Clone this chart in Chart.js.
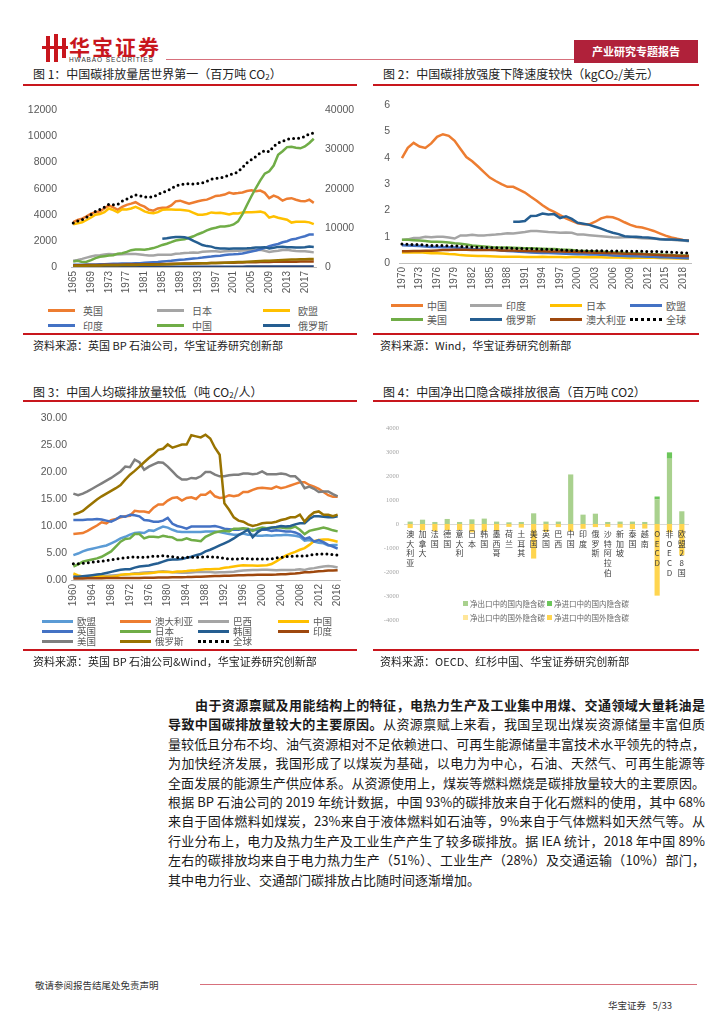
<!DOCTYPE html>
<html>
<head>
<meta charset="utf-8">
<script src="https://cdn.jsdelivr.net/npm/chart.js@4.4.0/dist/chart.umd.min.js"></script>
<style>
body{margin:0;width:724px;height:1024px;position:relative;background:#fff;font-family:"Noto Sans CJK SC","Noto Sans",sans-serif;color:#222;overflow:hidden}
.abs{position:absolute}
.title{position:absolute;font-size:12px;line-height:16px;white-space:nowrap;color:#222}
.title sub{font-size:8px;vertical-align:-1px}
.rule{position:absolute;height:2px;background:#c8161d}
.src{position:absolute;font-size:11px;line-height:14px;white-space:nowrap;color:#222}
.legend{position:absolute;display:grid;color:#595959;font-size:10px}
.legend .it{display:flex;align-items:center;white-space:nowrap;overflow:visible}
.legend .smp{display:inline-block;flex:none}
.para{position:absolute;left:168px;width:537px;font-size:13px;color:#1a1a1a}
.ln{height:19.4px;line-height:19.4px;text-align:justify;text-align-last:justify;overflow:hidden}
.ln.last{text-align-last:left}
canvas{position:absolute}
</style>
</head>
<body>
<!-- header -->
<div class="abs" style="left:46px;top:36px;width:4px;height:26px;background:#c8161d"></div>
<div class="abs" style="left:54px;top:34px;width:4px;height:28px;background:#c8161d"></div>
<div class="abs" style="left:62px;top:38px;width:4px;height:20px;background:#c8161d"></div>
<div class="abs" style="left:42px;top:46px;width:26px;height:3px;background:#c8161d"></div>
<div class="abs" style="left:69px;top:34px;font-size:21px;line-height:24px;font-weight:bold;color:#c8161d;letter-spacing:2px">华宝证券</div>
<div class="abs" style="left:69px;top:56px;font-size:6.5px;line-height:8px;color:#333;font-family:'Liberation Sans';letter-spacing:0.9px">HWABAO SECURITIES</div>
<div class="abs" style="left:166px;top:59px;width:408px;height:1px;background:#d7707c"></div>
<div class="abs" style="left:574px;top:40px;width:124px;height:23px;background:#b0213a;color:#fff;font-size:11px;line-height:23px;text-align:center;font-weight:bold">产业研究专题报告</div>

<!-- panel 1 -->
<div class="title" style="left:33px;top:66px">图 1：中国碳排放量居世界第一（百万吨 CO<sub>2</sub>）</div>
<div class="rule" style="left:23px;top:84px;width:334px"></div>
<canvas id="c1" width="335" height="212" style="left:25px;top:90px"></canvas>
<div class="legend" id="lg1" style="left:48px;top:303px"></div>
<div class="rule" style="left:23px;top:333px;width:334px"></div>
<div class="src" style="left:33px;top:338px">资料来源：英国 BP 石油公司，华宝证券研究创新部</div>

<!-- panel 2 -->
<div class="title" style="left:383px;top:66px">图 2：中国碳排放强度下降速度较快（kgCO<sub>2</sub>/美元）</div>
<div class="rule" style="left:373px;top:84px;width:326px"></div>
<canvas id="c2" width="330" height="205" style="left:375px;top:90px"></canvas>
<div class="legend" id="lg2" style="left:391px;top:298px"></div>
<div class="rule" style="left:373px;top:333px;width:326px"></div>
<div class="src" style="left:380px;top:338px">资料来源：Wind，华宝证券研究创新部</div>

<!-- panel 3 -->
<div class="title" style="left:33px;top:384px">图 3：中国人均碳排放量较低（吨 CO<sub>2</sub>/人）</div>
<div class="rule" style="left:23px;top:400px;width:334px"></div>
<canvas id="c3" width="335" height="212" style="left:25px;top:405px"></canvas>
<div class="legend" id="lg3" style="left:42px;top:616px;font-size:9.5px;line-height:10px"></div>
<div class="rule" style="left:23px;top:649px;width:334px"></div>
<div class="src" style="left:33px;top:654px">资料来源：英国 BP 石油公司&amp;Wind，华宝证券研究创新部</div>

<!-- panel 4 -->
<div class="title" style="left:383px;top:384px">图 4：中国净出口隐含碳排放很高（百万吨 CO2）</div>
<div class="rule" style="left:373px;top:400px;width:326px"></div>
<canvas id="c4" width="330" height="215" style="left:375px;top:415px"></canvas>
<div class="legend" id="lg4" style="left:463px;top:596px;font-size:7.5px;color:#666"></div>
<div class="rule" style="left:373px;top:649px;width:326px"></div>
<div class="src" style="left:380px;top:654px">资料来源：OECD、红杉中国、华宝证券研究创新部</div>

<!-- body text -->
<div class="para" style="top:695px">
<div class="ln" style="padding-left:27px"><b>由于资源禀赋及用能结构上的特征，电热力生产及工业集中用煤、交通领域大量耗油是</b></div>
<div class="ln"><b>导致中国碳排放量较大的主要原因。</b>从资源禀赋上来看，我国呈现出煤炭资源储量丰富但质</div>
<div class="ln">量较低且分布不均、油气资源相对不足依赖进口、可再生能源储量丰富技术水平领先的特点，</div>
<div class="ln">为加快经济发展，我国形成了以煤炭为基础，以电力为中心，石油、天然气、可再生能源等</div>
<div class="ln">全面发展的能源生产供应体系。从资源使用上，煤炭等燃料燃烧是碳排放量较大的主要原因。</div>
<div class="ln">根据 BP 石油公司的 2019 年统计数据，中国 93%的碳排放来自于化石燃料的使用，其中 68%</div>
<div class="ln">来自于固体燃料如煤炭，23%来自于液体燃料如石油等，9%来自于气体燃料如天然气等。从</div>
<div class="ln">行业分布上，电力及热力生产及工业生产产生了较多碳排放。据 IEA 统计，2018 年中国 89%</div>
<div class="ln">左右的碳排放均来自于电力热力生产（51%）、工业生产（28%）及交通运输（10%）部门，</div>
<div class="ln last">其中电力行业、交通部门碳排放占比随时间逐渐增加。</div>
</div>

<!-- footer -->
<div class="abs" style="left:35px;top:978px;font-size:9.5px;line-height:14px;color:#333">敬请参阅报告结尾处免责声明</div>
<div class="abs" style="left:200px;top:984px;width:497px;height:1px;background:#d7707c"></div>
<div class="abs" style="left:608px;top:998px;font-size:9.5px;line-height:14px;color:#333">华宝证券&nbsp;&nbsp;&nbsp;5/33</div>

<script>
'use strict';

// ---------- 图1 数据 (百万吨CO2) ----------
let years1 = [];
for (let y = 1965; y <= 2019; y++) years1.push(String(y));

let us1 = [3430,3600,3700,3880,4080,4200,4260,4480,4720,4560, 4380,4600,4760,4850,4960,4760,4620,4380,4310,4480,
    4540,4540,4720,5030,5080,4960,4840,4940,5040,5110, 5160,5300,5440,5470,5550,5700,5620,5660,5710,5820,
    5870,5800,5850,5680,5270,5460,5330,5080,5230,5270, 5150,5050,5030,5150,4910];
let japan1 = [480,540,620,720,800,880,900,950,1000,980, 950,980,990,990,1000,960,920,890,880,940,
    930,930,940,1010,1040,1080,1090,1110,1100,1160, 1180,1200,1200,1160,1200,1230,1220,1250,1270,1290,
    1300,1290,1320,1250,1150,1210,1240,1300,1320,1270, 1230,1210,1200,1160,1120];
let eu1 = [3280,3350,3420,3600,3800,4000,4060,4200,4480,4350, 4190,4420,4400,4480,4600,4450,4260,4160,4120,4200,
    4380,4400,4400,4380,4380,4350,4300,4150,4000,4000, 4060,4180,4140,4150,4090,4020,4120,4100,4170,4200,
    4190,4220,4240,4150,3780,3880,3770,3700,3620,3400, 3460,3460,3470,3420,3280];
let india1 = [170,175,180,190,195,200,210,220,230,240, 250,260,270,275,285,295,320,340,360,385,
    420,450,480,520,550,575,610,650,680,720, 770,800,840,860,920,950,970,1000,1040,1110,
    1180,1260,1360,1460,1590,1680,1760,1890,1970,2110, 2170,2270,2360,2480,2490];
let china1 = [430,470,390,400,520,680,780,830,880,900, 1020,1060,1160,1290,1340,1340,1320,1380,1450,1560,
    1690,1780,1900,2030,2090,2120,2240,2350,2510,2640, 2800,2930,3010,3100,3110,3150,3260,3500,4050,4750,
    5420,6050,6630,7150,7330,7770,8600,8870,9180,9200, 9140,9090,9230,9500,9820];
let russia1 = [null,null,null,null,null,null,null,null,null,null, null,null,null,null,null,null,null,null,null,null,
    2160,2200,2260,2290,2290,2270,2180,2000,1850,1680, 1600,1560,1450,1420,1410,1400,1410,1410,1420,1430,
    1450,1490,1500,1520,1420,1480,1540,1550,1520,1520, 1500,1500,1510,1560,1530];
let olive1 = [90,95,100,105,110,115,120,125,130,135, 140,145,150,155,160,165,170,175,180,190,
    200,210,220,230,240,250,255,260,270,280, 290,300,310,320,330,345,360,375,390,405,
    420,435,450,470,480,500,520,540,555,565, 575,585,595,610,615];
let brown1 = [130,135,140,145,150,155,160,165,170,172, 175,180,185,190,195,200,205,210,215,220,
    225,230,240,250,255,260,265,270,280,285, 295,300,305,310,320,330,335,340,350,355,
    360,370,375,385,390,395,400,405,410,410, 410,415,415,420,415];
let navy1 = [10,10,10,11,11,12,12,13,13,14, 14,15,15,16,16,17,17,18,18,19,
    19,20,20,21,21,22,22,23,23,24, 24,25,25,26,26,27,27,28,28,29,
    29,30,30,31,31,32,32,33,33,34, 34,35,35,36,36];
let world1 = [11200,11700,12100,12700,13400,14200,14700,15300,16000,15900, 16000,16800,17300,17900,18400,18200,17900,17800,17900,18500,
    19000,19400,20000,20700,21000,21200,21300,21200,21300,21500, 21900,22400,22600,22700,23000,23500,23800,24300,25400,26600,
    27400,28200,29100,29700,29400,30800,31700,32100,32600,32800, 32800,32900,33300,34000,34200];
let leftTicks1 = [0, 2000, 4000, 6000, 8000, 10000, 12000];
let rightTicks1 = [0, 10000, 20000, 30000, 40000];

// ---------- 图2 数据 (kgCO2/美元) ----------
let years2 = [];
for (let y = 1970; y <= 2019; y++) years2.push(String(y));

let china2 = [3.99,4.38,4.57,4.43,4.38,4.55,4.80,4.90,4.84,4.65, 4.34,4.03,3.87,3.67,3.46,3.25,3.12,3.00,2.90,2.90,
    2.79,2.68,2.52,2.37,2.20,2.05,1.95,1.82,1.70,1.60, 1.51,1.47,1.47,1.57,1.70,1.76,1.74,1.66,1.55,1.45,
    1.38,1.35,1.29,1.22,1.13,1.04,0.97,0.92,0.88,0.86];
let india2 = [0.88,0.90,0.95,0.95,1.00,0.98,1.00,1.00,0.97,0.93, 1.05,1.05,1.07,1.05,1.05,1.07,1.08,1.10,1.13,1.12,
    1.15,1.18,1.22,1.22,1.20,1.18,1.17,1.15,1.16,1.15, 1.08,1.08,1.06,1.04,1.02,1.00,0.98,0.97,0.98,0.99,
    0.96,0.94,0.93,0.92,0.91,0.89,0.88,0.87,0.86,0.83];
let japan2 = [0.40,0.40,0.40,0.41,0.39,0.37,0.37,0.36,0.34,0.33, 0.30,0.29,0.28,0.27,0.27,0.26,0.25,0.24,0.24,0.24,
    0.24,0.23,0.23,0.23,0.24,0.23,0.23,0.23,0.22,0.23, 0.23,0.22,0.22,0.22,0.22,0.21,0.21,0.21,0.20,0.19,
    0.20,0.20,0.20,0.20,0.19,0.18,0.18,0.17,0.17,0.16];
let eu2 = [0.68,0.67,0.66,0.65,0.63,0.61,0.61,0.60,0.60,0.59, 0.57,0.55,0.53,0.52,0.51,0.50,0.49,0.48,0.46,0.45,
    0.43,0.42,0.40,0.39,0.38,0.38,0.37,0.36,0.35,0.34, 0.33,0.33,0.32,0.32,0.31,0.30,0.29,0.28,0.27,0.26,
    0.26,0.25,0.24,0.24,0.22,0.22,0.21,0.20,0.19,0.18];
let us2 = [0.88,0.88,0.87,0.86,0.84,0.81,0.81,0.80,0.78,0.75, 0.73,0.70,0.67,0.65,0.63,0.61,0.59,0.59,0.59,0.58,
    0.57,0.56,0.56,0.55,0.54,0.53,0.53,0.51,0.50,0.49, 0.47,0.46,0.45,0.44,0.43,0.42,0.40,0.40,0.38,0.36,
    0.37,0.35,0.33,0.33,0.32,0.31,0.30,0.29,0.29,0.28];
let russia2 = [null,null,null,null,null,null,null,null,null,null, null,null,null,null,null,null,null,null,null,1.57,
    1.57,1.60,1.79,1.80,1.88,1.85,1.86,1.71,1.78,1.68, 1.53,1.49,1.45,1.38,1.31,1.22,1.15,1.10,1.02,1.00,
    1.00,0.98,0.97,0.94,0.90,0.89,0.89,0.88,0.87,0.85];
let aus2 = [0.45,0.45,0.46,0.46,0.47,0.47,0.48,0.49,0.49,0.50, 0.50,0.50,0.49,0.49,0.49,0.49,0.49,0.48,0.48,0.48,
    0.47,0.46,0.46,0.45,0.45,0.44,0.44,0.44,0.43,0.43, 0.42,0.41,0.40,0.39,0.39,0.38,0.37,0.36,0.35,0.35,
    0.34,0.33,0.32,0.31,0.30,0.29,0.29,0.28,0.27,0.27];
let world2 = [0.72,0.71,0.70,0.70,0.68,0.67,0.67,0.66,0.65,0.65, 0.63,0.62,0.61,0.60,0.59,0.58,0.58,0.57,0.57,0.56,
    0.55,0.55,0.54,0.53,0.52,0.52,0.51,0.50,0.49,0.48, 0.47,0.47,0.47,0.47,0.47,0.46,0.46,0.46,0.45,0.45,
    0.45,0.45,0.44,0.44,0.43,0.42,0.41,0.40,0.39,0.38];

// ---------- 图3 数据 (吨CO2/人) ----------
let years3 = [];
for (let y = 1960; y <= 2016; y++) years3.push(String(y));

let eu3 = [4.6,4.9,5.3,5.6,5.8,6.0,6.2,6.4,6.8,7.2, 7.7,8.0,8.4,8.7,8.8,8.7,9.2,9.1,9.5,9.9,
    9.7,9.3,9.0,8.9,8.9,8.9,8.9,8.9,9.0,9.0, 9.0,8.9,8.7,8.5,8.4,8.4,8.6,8.4,8.4,8.2,
    8.2,8.3,8.2,8.3,8.3,8.4,8.3,8.2,8.0,7.3, 7.4,7.1,6.9,6.8,6.4,6.5,6.5];
let aus3 = [8.5,8.6,8.7,9.1,9.6,10.1,10.7,10.5,11.1,11.3, 11.6,11.8,11.9,12.8,12.7,12.7,12.5,13.4,14.0,14.0,
    14.7,15.2,15.3,14.7,15.2,15.3,15.0,15.8,15.8,16.4, 15.5,15.2,15.3,15.7,15.5,15.7,16.3,16.3,16.7,17.0,
    17.1,17.0,16.9,17.3,17.0,17.2,17.5,17.8,18.1,18.1, 17.6,17.3,16.9,16.3,15.7,15.4,15.4];
let brazil3 = [0.65,0.68,0.70,0.70,0.70,0.70,0.75,0.78,0.85,0.90, 0.95,1.00,1.10,1.25,1.30,1.40,1.45,1.45,1.55,1.60,
    1.55,1.45,1.40,1.35,1.35,1.40,1.50,1.50,1.50,1.50, 1.40,1.45,1.45,1.50,1.55,1.65,1.75,1.80,1.85,1.85,
    1.90,1.90,1.85,1.80,1.85,1.85,1.85,1.90,2.00,1.85, 2.10,2.20,2.35,2.50,2.60,2.50,2.30];
let china3 = [1.20,0.85,0.66,0.64,0.64,0.67,0.70,0.58,0.60,0.68, 0.95,1.05,1.08,1.10,1.10,1.20,1.25,1.35,1.50,1.50,
    1.48,1.44,1.56,1.58,1.65,1.74,1.80,1.90,2.00,2.00, 2.05,2.10,2.25,2.35,2.50,2.65,2.75,2.70,2.70,2.65,
    2.70,2.75,2.95,3.45,4.00,4.50,4.90,5.20,5.60,5.90, 6.50,7.20,7.40,7.50,7.50,7.30,7.10];
let uk3 = [11.1,11.1,11.1,11.2,11.2,11.3,11.2,11.0,10.8,11.2, 11.8,11.7,12.1,12.0,11.8,11.1,11.0,10.8,10.8,11.0,
    11.5,10.4,10.0,9.8,9.5,9.9,9.9,9.9,9.9,9.9, 10.0,9.8,9.5,9.4,9.3,9.3,9.5,9.2,9.3,9.2,
    9.3,9.3,9.1,9.2,9.1,9.0,9.0,8.8,8.4,7.6, 7.9,7.1,7.4,7.0,6.5,6.2,5.8];
let japan3 = [2.5,2.9,3.4,3.6,3.8,4.0,4.3,4.8,5.3,6.2, 7.1,7.6,7.7,8.5,8.5,7.7,8.0,8.0,7.9,8.2,
    8.0,7.9,7.4,7.4,7.7,7.4,7.3,7.2,8.0,8.4, 8.8,9.0,9.1,9.0,9.5,9.5,9.6,9.5,9.1,9.5,
    9.7,9.6,9.7,9.7,9.7,9.6,9.6,9.9,9.3,8.5, 9.1,9.3,9.5,9.7,9.5,9.2,9.0];
let korea3 = [0.6,0.6,0.7,0.8,0.9,1.0,1.1,1.3,1.5,1.7, 1.9,2.0,2.0,2.3,2.5,2.6,2.7,2.9,3.1,3.4,
    3.7,3.8,3.8,3.9,4.1,4.3,4.6,4.8,5.3,5.6, 6.0,6.4,6.8,7.2,7.7,8.3,8.8,9.3,7.9,8.8,
    9.4,9.5,9.7,9.8,10.0,9.9,10.0,10.3,10.5,10.5, 11.3,11.8,11.8,11.7,11.6,11.6,11.8];
let india3 = [0.27,0.28,0.30,0.32,0.32,0.34,0.34,0.35,0.36,0.36, 0.36,0.37,0.38,0.38,0.39,0.41,0.42,0.43,0.44,0.46,
    0.48,0.50,0.51,0.53,0.54,0.57,0.59,0.62,0.65,0.69, 0.72,0.76,0.79,0.80,0.83,0.87,0.89,0.92,0.92,0.97,
    0.98,0.97,0.99,1.00,1.05,1.08,1.14,1.20,1.29,1.42, 1.45,1.53,1.64,1.66,1.75,1.74,1.80];
let us3 = [16.0,15.7,16.0,16.4,16.9,17.4,17.9,18.4,18.9,19.5, 20.1,21.0,20.9,22.3,21.8,20.4,21.0,21.4,21.8,21.7,
    21.0,20.1,19.2,18.6,18.6,18.9,18.8,19.2,20.0,20.0, 19.5,19.2,19.2,19.4,19.5,19.5,19.7,19.7,19.6,19.7,
    20.1,19.6,19.6,19.6,19.7,19.6,19.2,19.2,18.4,17.0, 17.3,16.9,16.3,16.4,16.4,15.9,15.5];
let russia3 = [12.1,12.4,12.8,13.5,14.2,14.9,15.5,16.0,16.5,17.0, 17.6,18.6,19.5,20.2,21.0,21.8,22.6,23.3,24.1,24.3,
    25.1,24.5,24.8,25.1,25.1,26.8,26.6,26.4,26.9,26.2, 24.5,23.2,14.2,13.0,11.6,11.0,10.8,10.3,10.0,10.2,
    10.5,10.6,10.6,10.8,11.1,11.3,11.6,11.6,12.1,10.8, 11.8,12.5,12.7,12.1,12.1,11.8,12.1];
let world3 = [3.0,3.0,3.1,3.2,3.3,3.4,3.5,3.6,3.7,3.9, 4.0,4.1,4.2,4.3,4.2,4.2,4.3,4.4,4.4,4.5,
    4.4,4.3,4.2,4.1,4.2,4.2,4.2,4.2,4.3,4.3, 4.2,4.2,4.0,3.9,3.9,3.9,4.0,3.9,3.9,3.9,
    3.9,3.9,3.9,4.1,4.2,4.3,4.4,4.4,4.5,4.4, 4.6,4.7,4.8,4.8,4.8,4.7,4.6];

// ---------- 图4 数据 (百万吨CO2) ----------
let cat4 = ['澳大利亚','加拿大','法国','德国','意大利','日本','韩国','墨西哥','荷兰','土耳其','美国','英国',
    '巴西','中国','印度','俄罗斯','沙特阿拉伯','新加坡','泰国','越南','OECD','非OECD','欧盟28国'];
let domExp4 = [100,180,85,210,85,195,225,100,70,85,445,100, 100,2065,390,430,85,100,100,85,1020,2720,530];
let domImp4 = [0,0,0,0,0,0,0,0,0,0,0,0, 0,0,0,0,0,0,0,0,125,265,0];
let forExp4 = [0,0,0,0,0,0,0,0,0,0,0,0, 0,0,0,0,0,0,0,0,0,0,0];
let forImp4 = [-170,-265,-300,-250,-250,-350,-300,-280,-120,-150,-1440,-330, -130,-300,-200,-130,-120,-150,-210,-190,-2985,-350,-1300];

Chart.defaults.font.family = "'Liberation Sans', Arial, sans-serif";
Chart.defaults.color = '#595959';
Chart.defaults.animation = false;

function fixW(w) { return function (s) { s.width = w; }; }
function fixH(h) { return function (s) { s.height = h; }; }
function everyN(n) {
    return function (v, i) { return i % n === 0 ? this.getLabelForValue(v) : ''; };
}
function plain(v) { return String(v); }
function lineSet(label, data, color, extra) {
    let ds = {
        label: label, data: data, borderColor: color, backgroundColor: color,
        borderWidth: 2.5, pointRadius: 0, tension: 0, spanGaps: false
    };
    return Object.assign(ds, extra || {});
}
function dotSet(label, data, extra) {
    return lineSet(label, data, '#000', Object.assign({
        borderWidth: 3, borderDash: [0, 5], borderCapStyle: 'round', isDot: true
    }, extra || {}));
}
function layerOrder(sets) {
    sets.forEach(function (ds, i) { ds.order = sets.length - i; });
    return sets;
}
function xCat(h, n) {
    return {
        offset: true, grid: { display: false, drawTicks: false },
        border: { display: true, color: '#bfbfbf' },
        ticks: { autoSkip: false, maxRotation: 90, minRotation: 90, padding: 4, font: { size: 10 }, callback: everyN(n) },
        afterFit: fixH(h)
    };
}
let noGrid = { display: false, drawTicks: false };

function buildLegend(id, chart, cols, rowH, smpW, gap) {
    let el = document.getElementById(id);
    el.style.gridTemplateColumns = cols.map(function (w) { return w + 'px'; }).join(' ');
    el.style.gridAutoRows = rowH + 'px';
    chart.data.datasets.forEach(function (ds) {
        if (ds.noLegend) return;
        let it = document.createElement('div');
        it.className = 'it';
        it.style.height = rowH + 'px';
        let smp = document.createElement('span');
        smp.className = 'smp';
        smp.style.width = smpW + 'px';
        smp.style.marginRight = gap + 'px';
        if (ds.isDot) {
            smp.style.height = '0';
            smp.style.borderTop = '3px dotted #000';
        } else {
            smp.style.height = '3px';
            smp.style.background = ds.borderColor;
        }
        let tx = document.createElement('span');
        tx.textContent = ds.label;
        it.appendChild(smp);
        it.appendChild(tx);
        el.appendChild(it);
    });
}

// ---------- 图1 ----------
let chart1 = new Chart(document.getElementById('c1'), {
    type: 'line',
    data: {
        labels: years1,
        datasets: layerOrder([
            lineSet('英国', us1, '#ed7d31'),
            lineSet('日本', japan1, '#a5a5a5'),
            lineSet('欧盟', eu1, '#ffc000'),
            lineSet('印度', india1, '#4472c4'),
            lineSet('中国', china1, '#70ad47'),
            lineSet('俄罗斯', russia1, '#255e91'),
            lineSet('其他A', navy1, '#264478', { noLegend: true }),
            lineSet('其他B', brown1, '#9e480e', { noLegend: true }),
            lineSet('其他C', olive1, '#997300', { noLegend: true }),
            dotSet('全球', world1, { yAxisID: 'y2', noLegend: true })
        ])
    },
    options: {
        responsive: false,
        layout: { padding: { top: 10 } },
        plugins: { legend: { display: false }, tooltip: { enabled: false } },
        scales: {
            x: xCat(35, 4),
            y: {
                position: 'left', min: 0, max: 12000,
                afterBuildTicks: function (s) { s.ticks = leftTicks1.map(function (v) { return { value: v }; }); },
                grid: noGrid, border: { display: false },
                ticks: { padding: 14, font: { size: 10.5 }, callback: plain }, afterFit: fixW(46)
            },
            y2: {
                position: 'right', min: 0, max: 40000,
                afterBuildTicks: function (s) { s.ticks = rightTicks1.map(function (v) { return { value: v }; }); },
                grid: noGrid, border: { display: false },
                ticks: { padding: 9, font: { size: 10.5 }, callback: plain }, afterFit: fixW(44)
            }
        }
    }
});
buildLegend('lg1', chart1, [109, 106, 100], 15, 27, 8);

// ---------- 图2 ----------
let chart2 = new Chart(document.getElementById('c2'), {
    type: 'line',
    data: {
        labels: years2,
        datasets: layerOrder([
            lineSet('中国', china2, '#ed7d31'),
            lineSet('印度', india2, '#a5a5a5'),
            lineSet('日本', japan2, '#ffc000'),
            lineSet('欧盟', eu2, '#4472c4'),
            lineSet('美国', us2, '#70ad47'),
            lineSet('俄罗斯', russia2, '#255e91'),
            lineSet('澳大利亚', aus2, '#9e480e'),
            dotSet('全球', world2)
        ])
    },
    options: {
        responsive: false,
        layout: { padding: { top: 14, right: 6 } },
        plugins: { legend: { display: false }, tooltip: { enabled: false } },
        scales: {
            x: xCat(32, 3),
            y: {
                min: 0, max: 6, grid: noGrid, border: { display: false },
                ticks: { stepSize: 1, padding: 9, font: { size: 10.5 } }, afterFit: fixW(24)
            }
        }
    }
});
buildLegend('lg2', chart2, [79, 80, 80, 75], 14, 32, 4);

// ---------- 图3 ----------
let chart3 = new Chart(document.getElementById('c3'), {
    type: 'line',
    data: {
        labels: years3,
        datasets: layerOrder([
            lineSet('欧盟', eu3, '#5b9bd5'),
            lineSet('澳大利亚', aus3, '#ed7d31'),
            lineSet('巴西', brazil3, '#a5a5a5'),
            lineSet('中国', china3, '#ffc000'),
            lineSet('英国', uk3, '#4472c4'),
            lineSet('日本', japan3, '#70ad47'),
            lineSet('韩国', korea3, '#255e91'),
            lineSet('印度', india3, '#9e480e'),
            lineSet('美国', us3, '#7f7f7f'),
            lineSet('俄罗斯', russia3, '#997300'),
            dotSet('全球', world3)
        ])
    },
    options: {
        responsive: false,
        layout: { padding: { top: 13, right: 20 } },
        plugins: { legend: { display: false }, tooltip: { enabled: false } },
        scales: {
            x: xCat(37, 4),
            y: {
                min: 0, max: 30, grid: noGrid, border: { display: false },
                ticks: {
                    stepSize: 5, padding: 4, font: { size: 10.5 },
                    callback: function (v) { return v.toFixed(2); }
                },
                afterFit: fixW(46)
            }
        }
    }
});
buildLegend('lg3', chart3, [78, 78, 80, 60], 10, 31, 4);

// ---------- 图4 ----------
let chart4 = new Chart(document.getElementById('c4'), {
    type: 'bar',
    data: {
        labels: cat4,
        datasets: [
            { label: '净出口中的国内隐含碳', data: domExp4, backgroundColor: '#a9d18e' },
            { label: '净进口中的国内隐含碳', data: domImp4, backgroundColor: '#6cc65a' },
            { label: '净出口中的国外隐含碳', data: forExp4, backgroundColor: '#ffe699' },
            { label: '净进口中的国外隐含碳', data: forImp4, backgroundColor: '#ffd54f' }
        ]
    },
    options: {
        responsive: false,
        layout: { padding: { top: 13, right: 17, bottom: 10 } },
        datasets: { bar: { barPercentage: 0.42, categoryPercentage: 1 } },
        plugins: { legend: { display: false }, tooltip: { enabled: false } },
        scales: {
            x: {
                stacked: true, position: { y: 0 },
                grid: noGrid,
                border: { display: true, color: '#d9d9d9' },
                ticks: {
                    z: 1, autoSkip: false, maxRotation: 0, minRotation: 0, padding: 5,
                    color: '#404040',
                    font: { family: "'Noto Sans CJK SC'", size: 8, lineHeight: 1.22 },
                    callback: function (v) { return Array.from(this.getLabelForValue(v)); }
                }
            },
            y: {
                stacked: true, min: -4000, max: 4000,
                grid: noGrid, border: { display: false },
                ticks: { stepSize: 1000, padding: 5, color: '#a6a6a6', font: { family: "'Liberation Serif'", size: 6.5 }, callback: plain },
                afterFit: fixW(29)
            }
        }
    }
});
(function () {
    let el = document.getElementById('lg4');
    el.style.gridTemplateColumns = '84px 84px';
    el.style.gridAutoRows = '14px';
    chart4.data.datasets.forEach(function (ds) {
        let it = document.createElement('div');
        it.className = 'it';
        let smp = document.createElement('span');
        smp.className = 'smp';
        smp.style.width = '5px';
        smp.style.height = '5px';
        smp.style.marginRight = '2px';
        smp.style.background = ds.backgroundColor;
        let tx = document.createElement('span');
        tx.textContent = ds.label;
        it.appendChild(smp);
        it.appendChild(tx);
        el.appendChild(it);
    });
})();
</script>
</body>
</html>
